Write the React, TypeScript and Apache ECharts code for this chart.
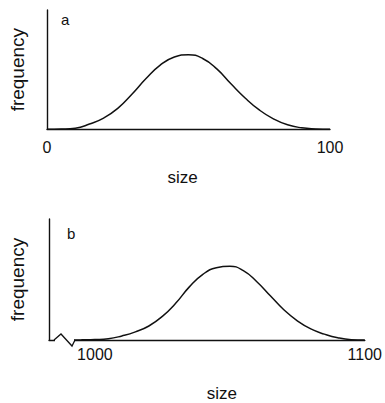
import React, { useEffect, useRef } from "react";
import * as echarts from "echarts";

// Panel a: size 0..100
const sizeA = [0, 5, 10, 15, 20, 25, 30, 35, 40, 45, 50, 55, 60, 65, 70, 75, 80, 85, 90, 95, 100];
const freqA = [0, 0.003, 0.015, 0.07, 0.15, 0.28, 0.47, 0.68, 0.86, 0.97, 1.0, 0.95, 0.81, 0.61, 0.42, 0.26, 0.14, 0.06, 0.02, 0.005, 0];

// Panel b: size 1000..1100 (broken axis)
const sizeB = [992, 995, 1000, 1005, 1010, 1015, 1020, 1025, 1030, 1035, 1040, 1045, 1050, 1055, 1060, 1065, 1070, 1075, 1080, 1085, 1090, 1095, 1100];
const freqB = [0, 0.002, 0.006, 0.017, 0.055, 0.11, 0.19, 0.32, 0.5, 0.72, 0.89, 0.98, 1.0, 0.94, 0.79, 0.6, 0.41, 0.26, 0.15, 0.08, 0.03, 0.005, 0];

const ticksA = [0, 100];
const ticksB = [1000, 1100];

const FONT = "Liberation Sans";
const INK = "#111";

export default function App() {
  const ref = useRef<HTMLDivElement>(null);
  useEffect(() => {
    if (!ref.current) return;
    const chart = echarts.init(ref.current, undefined, { renderer: "svg" });
    const axisLine = { show: true, lineStyle: { color: INK, width: 1.4 } };
    const nameStyle = { fontFamily: FONT, fontSize: 17, color: INK };
    const yNameStyle = { fontFamily: FONT, fontSize: 19, color: INK };
    const plain = (v: number) => String(v);
    chart.setOption({
      animation: false,
      backgroundColor: "#fff",
      grid: [
        { left: 46, top: 10, width: 284, height: 119.3 },
        { left: 48, top: 219, width: 322, height: 121 },
      ],
      xAxis: [
        {
          gridIndex: 0,
          type: "value",
          min: 0,
          max: 100,
          axisLine,
          axisTick: { show: false },
          splitLine: { show: false },
          axisLabel: {
            customValues: ticksA,
            formatter: plain,
            margin: 10,
            fontFamily: FONT,
            fontSize: 16,
            color: INK,
          },
          name: "size",
          nameLocation: "middle",
          nameGap: 40,
          nameTextStyle: { ...nameStyle, padding: [0, 12, 0, 0] },
        },
        {
          gridIndex: 1,
          type: "value",
          min: 983,
          max: 1100,
          axisLine,
          axisTick: { show: false },
          splitLine: { show: false },
          axisLabel: {
            customValues: ticksB,
            formatter: plain,
            margin: 6,
            fontFamily: FONT,
            fontSize: 16,
            color: INK,
          },
          name: "size",
          nameLocation: "middle",
          nameGap: 45,
          nameTextStyle: { ...nameStyle, padding: [0, 0, 0, 30] },
        },
      ],
      yAxis: [
        {
          gridIndex: 0,
          type: "value",
          min: 0,
          max: 1.6,
          axisLine,
          axisTick: { show: false },
          axisLabel: { show: false },
          splitLine: { show: false },
          name: "frequency",
          nameLocation: "middle",
          nameRotate: 90,
          nameGap: 20,
          nameTextStyle: yNameStyle,
        },
        {
          gridIndex: 1,
          type: "value",
          min: 0,
          max: 1.64,
          axisLine,
          axisTick: { show: false },
          axisLabel: { show: false },
          splitLine: { show: false },
          name: "frequency",
          nameLocation: "middle",
          nameRotate: 90,
          nameGap: 22,
          nameTextStyle: yNameStyle,
        },
      ],
      series: [
        {
          type: "line",
          xAxisIndex: 0,
          yAxisIndex: 0,
          smooth: 0.5,
          showSymbol: false,
          lineStyle: { color: INK, width: 1.5 },
          data: sizeA.map((s, i) => [s, freqA[i]]),
        },
        {
          type: "line",
          xAxisIndex: 1,
          yAxisIndex: 1,
          smooth: 0.5,
          showSymbol: false,
          lineStyle: { color: INK, width: 1.5 },
          data: sizeB.map((s, i) => [s, freqB[i]]),
        },
      ],
      graphic: [
        {
          type: "text",
          left: 61,
          top: 12,
          style: { text: "a", fontFamily: FONT, fontSize: 15, fill: INK },
        },
        {
          type: "text",
          left: 67,
          top: 226,
          style: { text: "b", fontFamily: FONT, fontSize: 15, fill: INK },
        },
        {
          type: "rect",
          shape: { x: 55, y: 337, width: 19, height: 6 },
          style: { fill: "#fff" },
          z: 100,
        },
        {
          type: "polyline",
          shape: { points: [[54, 340], [61, 334], [72, 346], [75, 340]] },
          style: { stroke: INK, lineWidth: 1.3, fill: "none" },
          z: 101,
        },
      ],
    });
    return () => chart.dispose();
  }, []);
  return (
    <div
      ref={ref}
      style={{ position: "absolute", left: 0, top: 0, width: 385, height: 403, background: "#fff" }}
    />
  );
}
